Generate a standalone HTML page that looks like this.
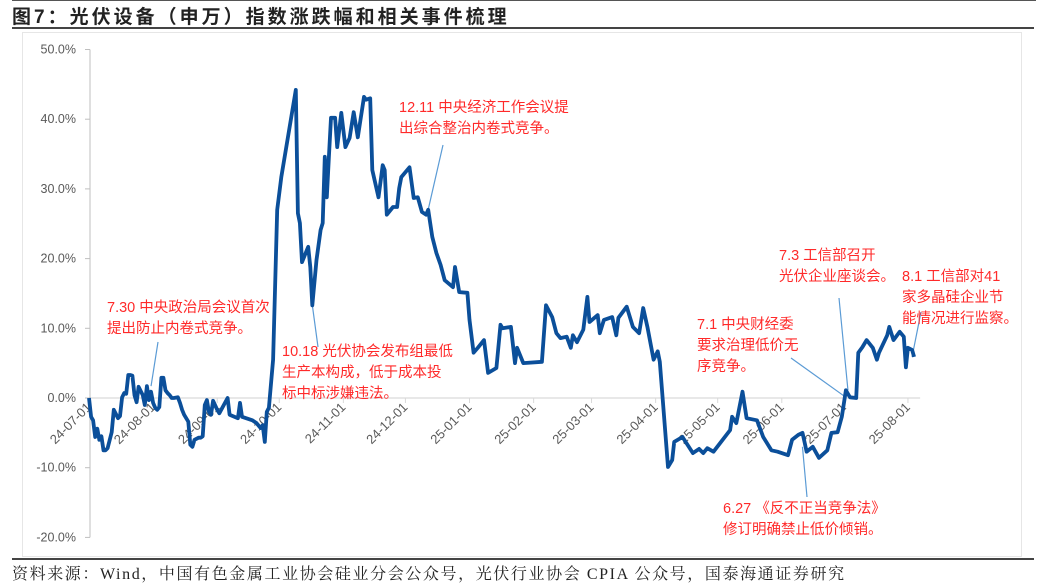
<!DOCTYPE html>
<html><head><meta charset="utf-8"><style>
body{margin:0;background:#fff;width:1048px;height:583px;overflow:hidden;position:relative;font-family:"Liberation Sans","Noto Sans CJK SC",sans-serif}
.t{position:absolute;white-space:nowrap}
</style></head><body>
<div style="position:absolute;left:12px;top:0;width:1024px;height:1px;background:#555"></div>
<div class="t" style="left:12px;top:2px;font-size:19px;font-weight:bold;color:#222;letter-spacing:3px">图7：光伏设备（申万）指数涨跌幅和相关事件梳理</div>
<div style="position:absolute;left:12px;top:27px;width:1022px;height:2px;background:#444"></div>
<div style="position:absolute;left:22px;top:32px;width:998px;height:523px;border:1px solid #e6e6e6"></div>
<div style="position:absolute;left:12px;top:558px;width:1022px;height:2px;background:#444"></div>
<div class="t" style="left:12px;top:561px;font-size:16px;letter-spacing:1.6px;color:#222;font-family:'Liberation Serif','Noto Serif CJK SC',serif">资料来源：Wind，中国有色金属工业协会硅业分会公众号，光伏行业协会 CPIA 公众号，国泰海通证券研究</div>
<svg id="chart" width="1048" height="583" style="position:absolute;left:0;top:0"></svg>
<script>
const yTicks=[50,40,30,20,10,0,-10,-20];
const xTickLabels=["24-07-01","24-08-01","24-09-01","24-10-01","24-11-01","24-12-01","25-01-01","25-02-01","25-03-01","25-04-01","25-05-01","25-06-01","25-07-01","25-08-01"];
const xTickDays=[0,31,62,92,123,153,184,215,243,274,304,335,365,396];
const days=[0,1,2,3,4,5,6,7,8,9,11,12,13,14,15,16,17,18,19,20,21,22,23,24,26,27,28,29,30,31,32,33,34,35,36,37,38,39,40,41,43,44,45,46,48,49,50,51,53,54,55,56,57,58,59,60,62,63,67,68,72,73,74,79,81,83,84,85,86,87,89,91,93,100,101,102,103,106,107,108,110,112,113,114,115,116,117,119,120,122,124,126,128,130,133,134,136,137,140,142,143,144,147,149,150,151,155,157,159,161,163,164,166,168,170,172,176,177,179,183,184,186,188,191,193,197,199,200,204,206,207,210,219,221,224,226,228,231,233,234,236,239,241,242,246,247,249,253,255,256,260,263,266,268,270,273,275,276,280,282,283,287,292,295,297,299,302,310,311,313,316,318,323,326,330,333,338,340,343,345,346,347,350,353,357,359,362,364,366,368,371,372,374,376,379,381,382,386,387,389,392,394,395,396,398,399];
const values=[0,-2.7,-3.2,-5.6,-4.4,-6.0,-5.5,-7.5,-7.5,-7.2,-4.9,-1.7,-2.3,-2.9,-2.6,0.1,0.7,0.6,3.3,3.3,3.2,0.4,-0.6,1.6,0.4,-1.0,1.7,-0.3,0.9,-0.7,-1.4,-1.7,-1.3,2.9,2.9,1.1,0.7,0.4,0,0,0.1,-0.7,-1.7,-2.4,-3.4,-6.7,-7.0,-6.0,-5.7,-5.7,-5.5,-1.0,-0.3,-2.0,-2.4,-0.4,-1.7,-2.2,0,-2.4,-2.9,-0.7,-2.7,-3.2,-3.6,-4.3,-3.9,-6.3,-2.0,-1.4,5.5,27,31.7,44.2,26.5,25.1,19.5,21.7,18.8,13.3,19.8,24.1,25.1,34.6,28.8,34.6,40.2,40.2,36.0,40.9,36.0,37.3,41.0,37.4,43.2,42.8,43.0,32.7,28.8,33.4,32.7,26.3,27.4,27.4,30.1,31.7,33.1,28.7,28.8,26.7,26.3,27.0,23.1,20.8,19.1,16.9,15.9,18.8,15.2,15.1,11.2,6.5,7.2,8.3,3.6,4.3,10.5,10.0,10.2,5.0,7.2,5.0,5.2,13.3,11.6,9.3,8.6,8.8,7.2,9.0,8.0,9.8,14.5,10.9,11.9,9.3,11.2,11.6,9.0,11.5,13.1,10.2,9.3,12.9,10.2,5.5,6.7,5.2,-9.9,-8.9,-6.3,-5.6,-7.9,-7.3,-7.9,-7.2,-7.7,-4.6,-2.7,-3.6,0.9,-2.9,-3.2,-5.6,-7.5,-7.7,-8.2,-6.0,-5.3,-5.0,-6.3,-7.7,-7.0,-8.6,-7.5,-5.0,-4.9,-2.7,1.1,0.1,0,6.5,7.3,8.3,7.2,5.5,6.5,9.0,10.2,8.3,9.5,8.8,4.4,7.2,6.9,5.9];
const annTexts=[["7.30 中央政治局会议首次","提出防止内卷式竞争。"],["10.18 光伏协会发布组最低","生产本构成，低于成本投","标中标涉嫌违法。"],["12.11 中央经济工作会议提","出综合整治内卷式竞争。"],["7.1 中央财经委","要求治理低价无","序竞争。"],["7.3 工信部召开","光伏企业座谈会。"],["8.1 工信部对41","家多晶硅企业节","能情况进行监察。"],["6.27 《反不正当竞争法》","修订明确禁止低价倾销。"]];
const annDays=[30,108,164,366,367,398,345];
const annValues=[1.7,13.3,27.0,0.1,1.1,5.9,-7.0];
const NS="http://www.w3.org/2000/svg";
const svg=document.getElementById('chart');
const X=d=>89+d*2.068;
const Y=v=>398-v*6.97;
function el(t,a){const e=document.createElementNS(NS,t);for(const k in a)e.setAttribute(k,a[k]);svg.appendChild(e);return e;}
const ya=el('line',{x1:90,y1:Y(50),x2:90,y2:Y(-20),stroke:'#bfbfbf','stroke-width':1});


yTicks.forEach(v=>{
  const tk=el('line',{x1:85,y1:Y(v),x2:90,y2:Y(v),stroke:'#bfbfbf'});
  
  
  const tx=el('text',{x:76,y:Y(v)+4,'text-anchor':'end','font-size':12.5,fill:'#595959','font-family':'Liberation Sans, sans-serif'});
  tx.textContent=v.toFixed(1)+'%';
  
  
});
const xa=el('line',{x1:90,y1:Y(0),x2:X(399)+6,y2:Y(0),stroke:'#d9d9d9','stroke-width':1.3});


xTickDays.forEach((d,i)=>{
  const x=X(d);
  const tk=el('line',{x1:x,y1:Y(0),x2:x,y2:Y(0)+5,stroke:'#d9d9d9'});
  
  
  const tx=el('text',{x:x+3,y:Y(0)+10,'text-anchor':'end','font-size':13,fill:'#595959','font-family':'Liberation Sans, sans-serif',transform:`rotate(-45 ${x+3} ${Y(0)+10})`});
  tx.textContent=xTickLabels[i];
  
  
});
const textPos=[[107,298],[282,342],[399,98],[697,315],[779,246],[902,267],[723,499]];
const leaderEnds=[[158,342],[318,347],[443,145],[791,358],[839,298],[921,312],[807,497]];
annDays.forEach((d,i)=>{
  const ln=el('line',{x1:leaderEnds[i][0],y1:leaderEnds[i][1],x2:X(d),y2:Y(annValues[i]),stroke:'#5b9bd5','stroke-width':1.2});
  
  
});
const pts=days.map((d,i)=>X(d).toFixed(1)+','+Y(values[i]).toFixed(1)).join(' ');
const pl=el('polyline',{points:pts,fill:'none',stroke:'#0b4f9a','stroke-width':3.8,'stroke-linejoin':'round'});


annTexts.forEach((lines,i)=>{
  lines.forEach((s,j)=>{
    const tx=el('text',{x:textPos[i][0],y:textPos[i][1]+14+j*21,'font-size':14.5,fill:'#ff2a2a','font-family':'Liberation Sans, Noto Sans CJK SC, sans-serif'});
    tx.textContent=s;
    
    
  });
});
</script>
</body></html>
